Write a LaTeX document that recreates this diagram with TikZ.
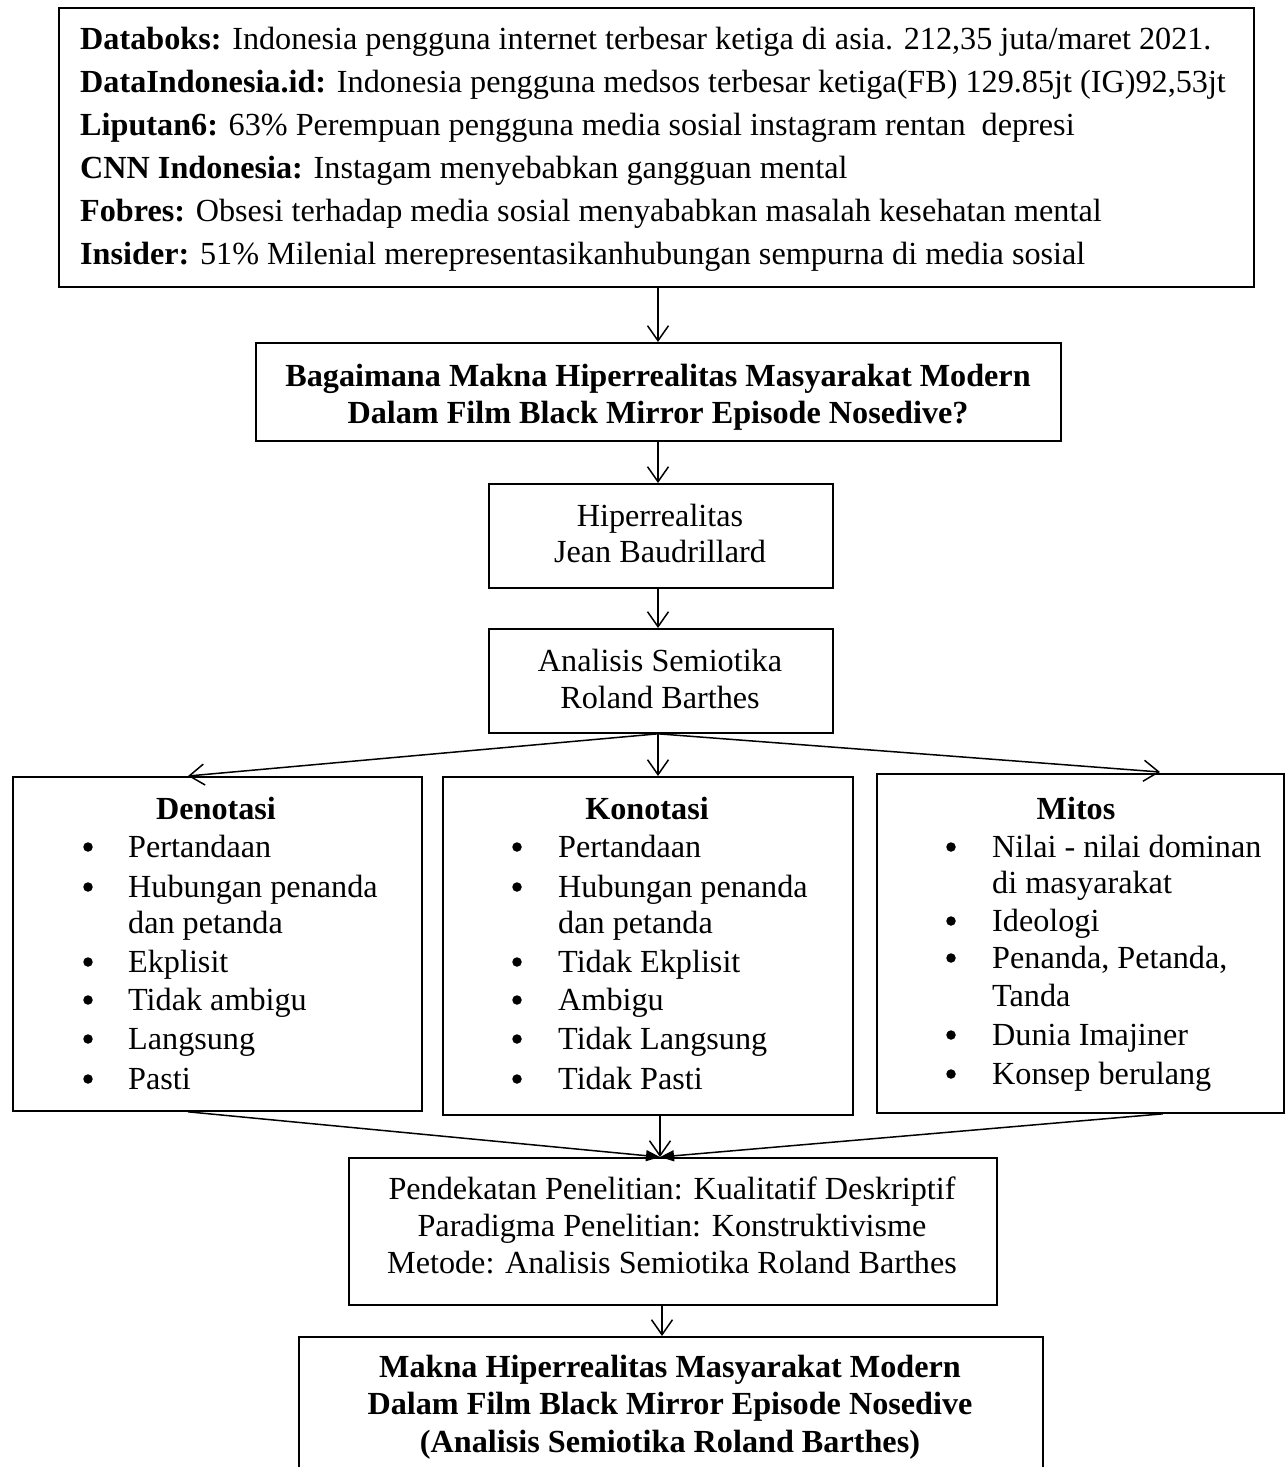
\documentclass[tikz,border=0pt]{standalone}
\usepackage{fontspec}
\setmainfont{Liberation Serif}
\usetikzlibrary{arrows.meta,calc}
\tikzset{
  box/.style={draw, line width=1.8pt, inner sep=0pt, anchor=north west},
  txt/.style={inner sep=0pt, anchor=base west, font=\fontsize{32.2}{38}\selectfont},
  ctxt/.style={inner sep=0pt, anchor=base, font=\fontsize{32.2}{38}\selectfont},
  btxt/.style={inner sep=0pt, anchor=base, font=\fontsize{32.2}{38}\selectfont\bfseries},
  bul/.style={circle, fill, inner sep=0pt, minimum size=9.5pt},
  arr/.style={line width=1.5pt, -{Straight Barb[length=15pt,width=21pt,line width=1.5pt]}},
  farr/.style={line width=1.5pt, -{Triangle[length=14pt,width=11pt]}}
}
\begin{document}
\begin{tikzpicture}[x=1pt,y=-1pt]
\useasboundingbox (0,0) rectangle (1287,1467);
% boxes
\node[box, minimum width=1195pt, minimum height=279pt] (top) at (58,7) {};
\node[box, minimum width=805pt, minimum height=98pt] (q) at (255,342) {};
\node[box, minimum width=344pt, minimum height=104pt] (hip) at (488,483) {};
\node[box, minimum width=344pt, minimum height=104pt] (sem) at (488,628) {};
\node[box, minimum width=409pt, minimum height=334pt] (den) at (12,776) {};
\node[box, minimum width=410pt, minimum height=338pt] (kon) at (442,776) {};
\node[box, minimum width=407pt, minimum height=339pt] (mit) at (876,773) {};
\node[box, minimum width=648pt, minimum height=147pt] (pen) at (348,1157) {};
\node[box, minimum width=744pt, minimum height=160pt] (bot) at (298,1336) {};
% top text
\node[txt] (t1) at (80,49) {\textbf{Databoks:} Indonesia pengguna internet terbesar ketiga di asia. 212,35 juta/maret 2021.};
\node[txt] (t2) at (80,92) {\textbf{DataIndonesia.id:} Indonesia pengguna medsos terbesar ketiga(FB) 129.85jt (IG)92,53jt};
\node[txt] (t3) at (80,135) {\textbf{Liputan6:} 63\% Perempuan pengguna media sosial instagram rentan\ \ depresi};
\node[txt] (t4) at (80,178) {\textbf{CNN Indonesia:} Instagam menyebabkan gangguan mental};
\node[txt] (t5) at (80,221) {\textbf{Fobres:} Obsesi terhadap media sosial menyababkan masalah kesehatan mental};
\node[txt] (t6) at (80,264) {\textbf{Insider:} 51\% Milenial merepresentasikanhubungan sempurna di media sosial};
% question
\node[btxt] (q1) at (658,386) {Bagaimana Makna Hiperrealitas Masyarakat Modern};
\node[btxt] (q2) at (658,423) {Dalam Film Black Mirror Episode Nosedive?};
\node[ctxt] (h1) at (660,526) {Hiperrealitas};
\node[ctxt] (h2) at (660,562) {Jean Baudrillard};
\node[ctxt] (s1) at (660,671) {Analisis Semiotika};
\node[ctxt] (s2) at (660,708) {Roland Barthes};
% Denotasi
\node[btxt] (dt) at (216,819) {Denotasi};
\foreach \y/\t [count=\i] in {857/Pertandaan,897/Hubungan penanda,972/Ekplisit,1010/Tidak ambigu,1049/Langsung,1089/Pasti}{
  \node[bul] (db\i) at (88,\y-10) {};
  \node[txt] (dx\i) at (128,\y) {\t};
}
\node[txt] (dx7) at (128,933) {dan petanda};
% Konotasi
\node[btxt] (kt) at (647,819) {Konotasi};
\foreach \y/\t [count=\i] in {857/Pertandaan,897/Hubungan penanda,972/Tidak Ekplisit,1010/Ambigu,1049/Tidak Langsung,1089/Tidak Pasti}{
  \node[bul] (kb\i) at (517,\y-10) {};
  \node[txt] (kx\i) at (558,\y) {\t};
}
\node[txt] (kx7) at (558,933) {dan petanda};
% Mitos
\node[btxt] (mt) at (1076,819) {Mitos};
\foreach \y/\t [count=\i] in {857/Nilai - nilai dominan,931/Ideologi,968/{Penanda, Petanda,},1045/Dunia Imajiner,1084/Konsep berulang}{
  \node[bul] (mb\i) at (951,\y-10) {};
  \node[txt] (mx\i) at (992,\y) {\t};
}
\node[txt] (mx6) at (992,893) {di masyarakat};
\node[txt] (mx7) at (992,1006) {Tanda};
% Pendekatan
\node[ctxt] (p1) at (672,1199) {Pendekatan Penelitian: Kualitatif Deskriptif};
\node[ctxt] (p2) at (672,1236) {Paradigma Penelitian: Konstruktivisme};
\node[ctxt] (p3) at (672,1273) {Metode: Analisis Semiotika Roland Barthes};
% bottom
\node[btxt] (b1) at (670,1377) {Makna Hiperrealitas Masyarakat Modern};
\node[btxt] (b2) at (670,1414) {Dalam Film Black Mirror Episode Nosedive};
\node[btxt] (b3) at (670,1452) {(Analisis Semiotika Roland Barthes)};
% connectors
\coordinate (a0) at (658,0);
\draw[arr] (top.south -| a0) -- (q.north -| a0);
\draw[arr] (q.south -| a0) -- (hip.north -| a0);
\draw[arr] (hip.south -| a0) -- (sem.north -| a0);
\coordinate (c1) at (188,0);
\coordinate (c3) at (1160,0);
\draw[arr] (sem.south -| a0) -- (den.north -| c1);
\draw[arr] (sem.south -| a0) -- (kon.north -| a0);
\draw[arr] (sem.south -| a0) -- ([yshift=1pt]mit.north -| c3);
\coordinate (c2) at (660,0);
\coordinate (c4) at (1163,0);
\draw[farr] (den.south -| c1) -- (pen.north -| c2);
\draw[arr] (kon.south -| c2) -- (pen.north -| c2);
\draw[farr] (mit.south -| c4) -- (pen.north -| c2);
\coordinate (c5) at (662,0);
\draw[arr] (pen.south -| c5) -- (bot.north -| c5);
\end{tikzpicture}
\end{document}
